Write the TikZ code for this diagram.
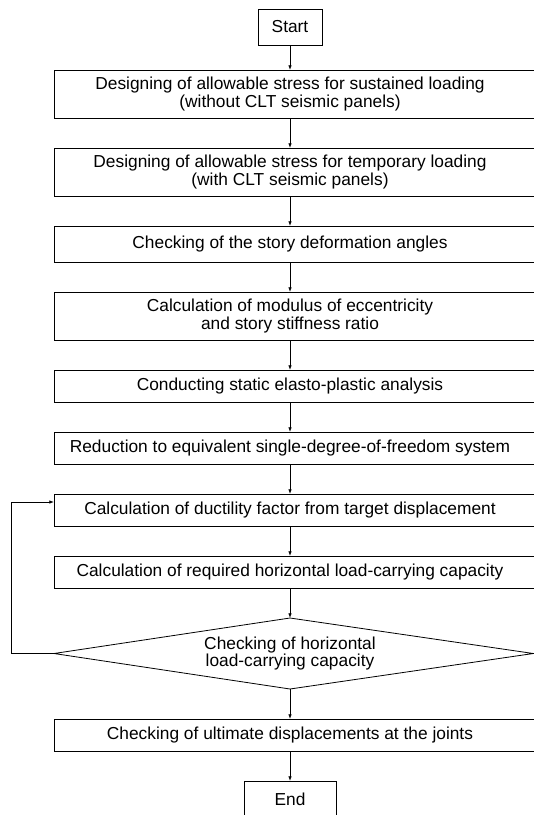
\documentclass[tikz,border=0pt]{standalone}
\usepackage{fontspec}
\setmainfont{Liberation Sans}
\usetikzlibrary{positioning,shapes.geometric,arrows.meta}

\begin{document}
\begin{tikzpicture}[node distance=22.5pt, line width=0.6pt,
  font=\fontsize{13}{12}\selectfont,
  >={Latex[length=3.5pt,width=2.6pt]},
  every node/.style={inner sep=0pt, outer sep=0pt, align=center},
  box/.style={minimum width=354pt, minimum height=24pt},
  tallbox/.style={box, minimum height=36pt},
  terminal/.style={draw, minimum height=27pt},
  decision/.style={diamond, aspect=6.7, minimum width=354pt, minimum height=53.25pt}]
\useasboundingbox (0,0) rectangle (400.5pt,-611.25pt);
\clip (0,0) rectangle (400.5pt,-611.25pt);
\node[terminal, minimum width=48pt] (start) at (217.5pt,-20.25pt) {Start};
\node[tallbox] (sustained) [below=18.75pt of start] {Designing of allowable stress for sustained loading\\(without CLT seismic panels)};
\node[tallbox] (temporary) [below=of sustained] {Designing of allowable stress for temporary loading\\(with CLT seismic panels)};
\node[box, minimum height=27pt] (angles) [below=of temporary] {Checking of the story deformation angles};
\node[tallbox] (eccentric) [below=of angles] {Calculation of modulus of eccentricity\\and story stiffness ratio};
\node[box] (static) [below=of eccentric] {Conducting static elasto-plastic analysis};
\node[box] (sdof) [below=of static] {Reduction to equivalent single-degree-of-freedom system};
\node[box] (ductility) [below=of sdof] {Calculation of ductility factor from target displacement};
\node[box] (required) [below=of ductility] {Calculation of required horizontal load-carrying capacity};
\node[decision] (check) [below=of required] {Checking of horizontal\\load-carrying capacity};
\node[box] (ultimate) [below=of check] {Checking of ultimate displacements at the joints};
\node[terminal, minimum width=69pt] (end) [below=of ultimate] {End};
% frames run out past the right edge
\foreach \n in {sustained,temporary,angles,eccentric,static,sdof,ductility,required,ultimate}
  \draw (\n.north west) rectangle ([xshift=14pt]\n.south east);
\draw (check.west) -- (check.north) -- ([xshift=5.5pt]check.east) -- (check.south) -- cycle;
\draw[->] (start) -- (sustained);
\draw[->] (sustained) -- (temporary);
\draw[->] (temporary) -- (angles);
\draw[->] (angles) -- (eccentric);
\draw[->] (eccentric) -- (static);
\draw[->] (static) -- (sdof);
\draw[->] (sdof) -- (ductility);
\draw[->] (ductility) -- (required);
\draw[->] (required) -- (check);
\draw[->] (check) -- (ultimate);
\draw[->] (ultimate) -- (end);
% loop back
\draw[->] (check.west) -- ++(-31.7pt,0) |- ([yshift=6pt]ductility.west);
\end{tikzpicture}
\end{document}
